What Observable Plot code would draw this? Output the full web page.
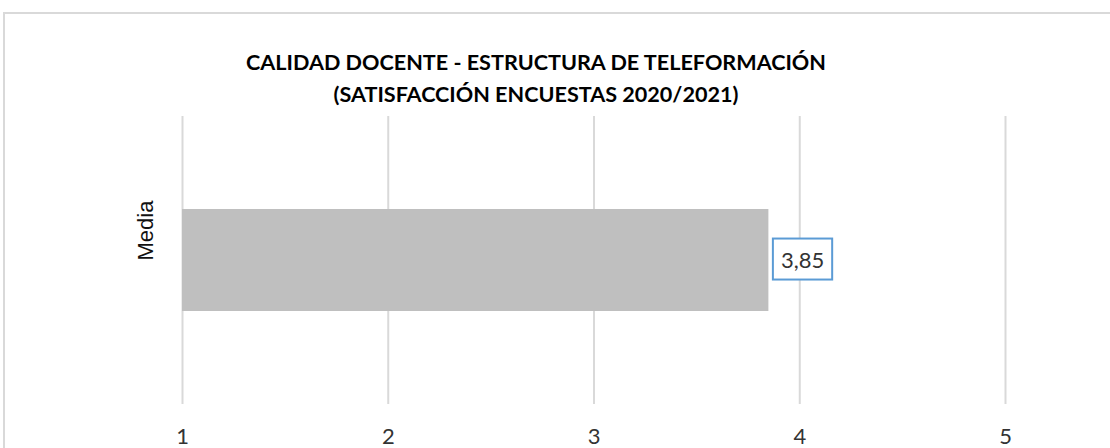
<!DOCTYPE html>
<html>
<head>
<meta charset="utf-8">
<script src="https://cdn.jsdelivr.net/npm/d3@7"></script>
<script src="https://cdn.jsdelivr.net/npm/@observablehq/plot@0.6"></script>
<style>
  html, body { margin: 0; padding: 0; background: #fff; overflow: hidden; }
  #wrap { position: relative; width: 1110px; height: 448px; overflow: hidden; background: #fff; }
  #frame { position: absolute; left: 3px; top: 12px; width: 1200px; height: 600px; border: 2px solid #d9d9d9; box-sizing: border-box; }
  #title { position: absolute; left: 236px; width: 600px; top: 46px; text-align: center;
           font-family: Lato, sans-serif; font-weight: bold; font-size: 21.6px; line-height: 32px; color: #000; }
  #chart { position: absolute; left: 0; top: 0; }
</style>
</head>
<body>
<div id="wrap">
  <div id="frame"></div>
  <div id="title">CALIDAD DOCENTE - ESTRUCTURA DE TELEFORMACIÓN<br>(SATISFACCIÓN ENCUESTAS 2020/2021)</div>
  <div id="chart"></div>
</div>
<script>
const categories = ["Media"];
const values = [3.85];
const xTicks = [1, 2, 3, 4, 5];
const xMin = 1, xMax = 5;

const data = categories.map((c, i) => ({category: c, value: values[i]}));
const fmt = v => v.toFixed(2).replace(".", ",");

const plot = Plot.plot({
  width: 1110,
  height: 448,
  marginTop: 116,
  marginBottom: 44,
  marginLeft: 182,
  marginRight: 105,
  style: {background: "transparent", overflow: "visible"},
  x: {domain: [xMin, xMax], ticks: xTicks, label: null},
  y: {domain: categories, padding: 0.476, axis: null},
  marks: [
    Plot.ruleX(xTicks, {stroke: "#d9d9d9", strokeWidth: 2}),
    Plot.barX(data, {x1: d => xMin, x2: "value", y: "category", fill: "#bfbfbf"}),
    Plot.axisX({ticks: xTicks, tickSize: 0, tickPadding: 24, fontSize: 22, fontFamily: "Lato, sans-serif", color: "#333", label: null, tickFormat: d => String(d)}),
    Plot.text(data, {y: "category", text: "category", frameAnchor: "left", dx: -37, rotate: -90,
      fontSize: 22, fontFamily: "Liberation Sans, Arial, sans-serif", fill: "#111"}),
    Plot.text(data, {x: "value", y: "category", text: d => fmt(d.value), textAnchor: "start", dx: 12,
      fontSize: 22, fontFamily: "Lato, sans-serif", fill: "#333", ariaDescription: "value-label"})
  ]
});
document.getElementById("chart").appendChild(plot);

// draw boxed border around the value labels
const labelGroups = plot.querySelectorAll('g[aria-description="value-label"]');
labelGroups.forEach(g => {
  g.querySelectorAll("text").forEach(t => {
    const b = t.getBBox();
    const tr = t.getAttribute("transform");
    const r = document.createElementNS("http://www.w3.org/2000/svg", "rect");
    const px = 8, py = 7;
    r.setAttribute("x", b.x - px);
    r.setAttribute("y", b.y - py);
    r.setAttribute("width", b.width + 2 * px);
    r.setAttribute("height", b.height + 2 * py);
    r.setAttribute("fill", "#fff");
    r.setAttribute("stroke", "#5b9bd5");
    r.setAttribute("stroke-width", 2);
    if (tr) r.setAttribute("transform", tr);
    t.parentNode.insertBefore(r, t);
  });
});
</script>
</body>
</html>
